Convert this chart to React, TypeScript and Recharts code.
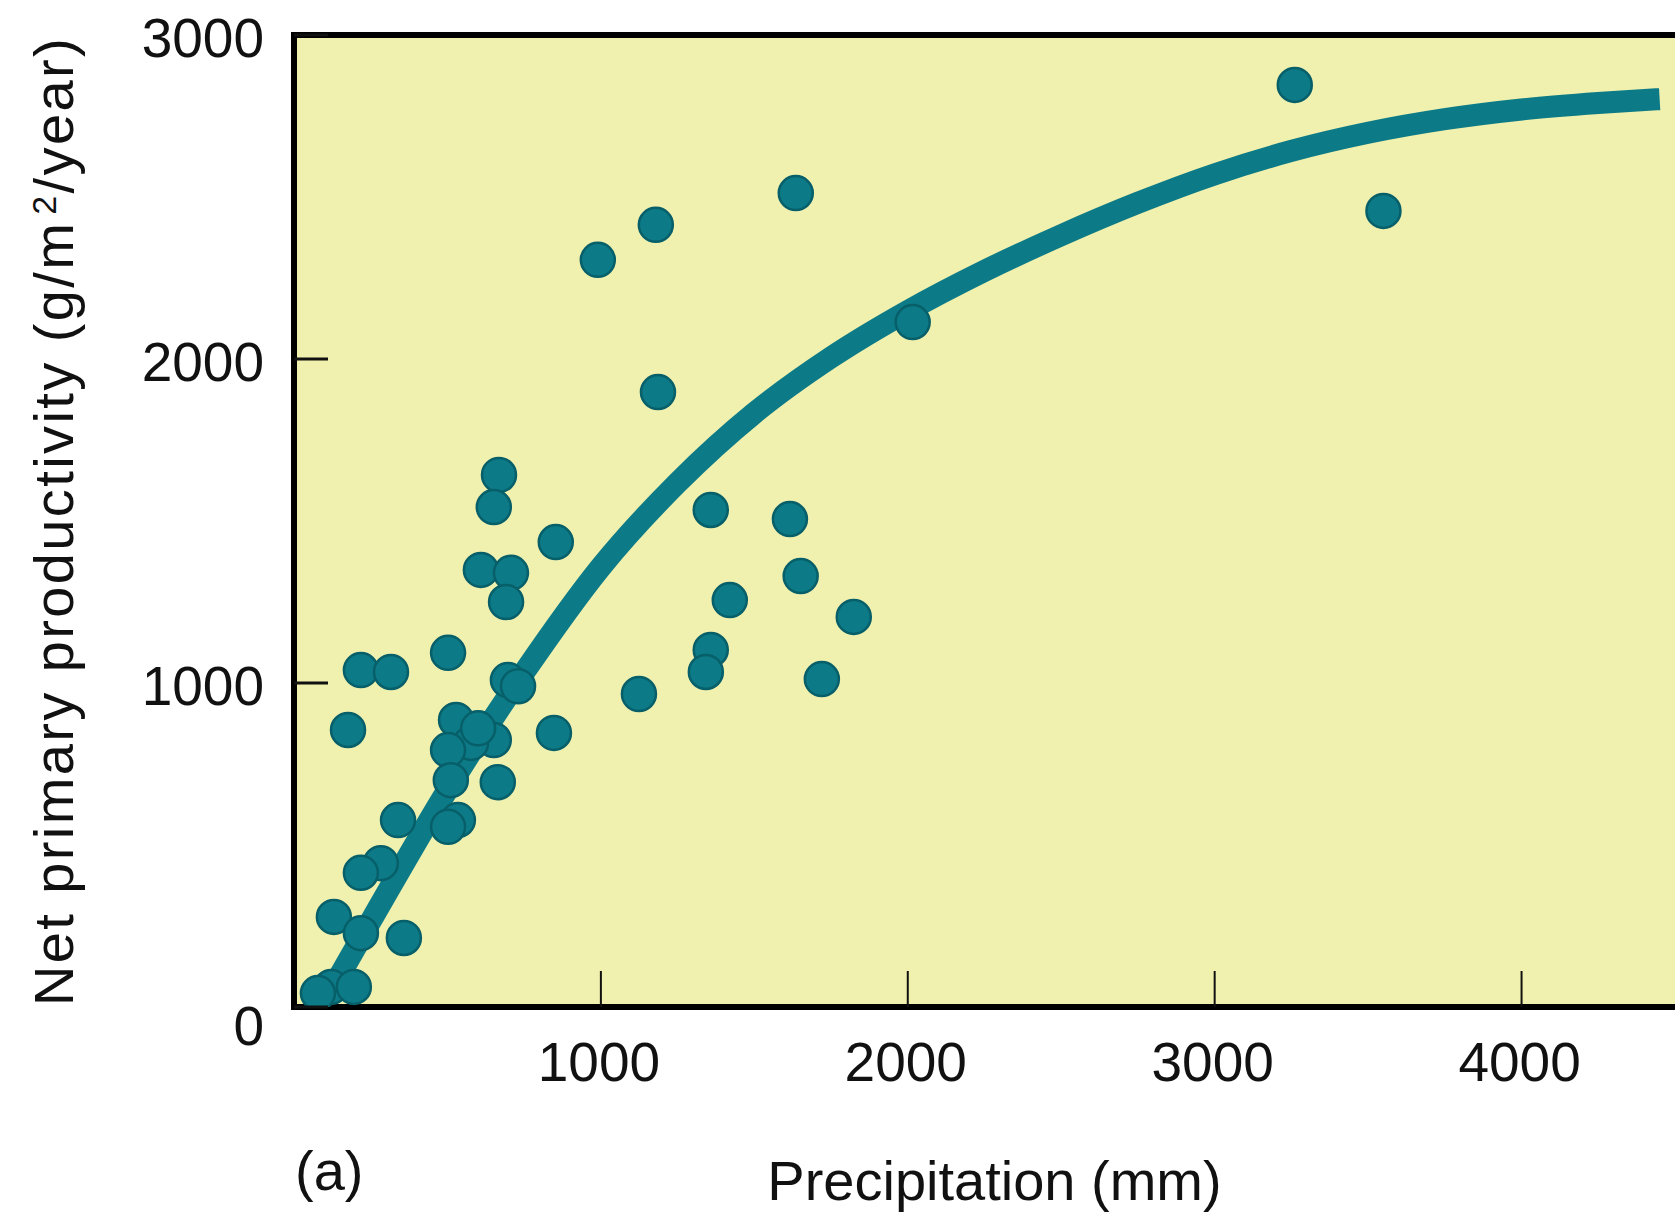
import React from 'react';
import { ComposedChart, XAxis, YAxis, Scatter, Line, ReferenceArea, ReferenceLine, Label } from 'recharts';

const FONT = '"Liberation Sans", Arial, Helvetica, sans-serif';

const xTicks = [1000, 2000, 3000, 4000];
const yTicks = [0, 1000, 2000, 3000];

// Observed sites: precipitation (mm) and net primary productivity (g/m2/year)
const precipitation = [
  3261, 3550, 1635, 1179, 990, 1186, 2016, 853, 1358, 1616,
  1651, 1420, 1824, 1358, 1342, 1720, 1124, 847, 668, 651,
  609, 707, 691, 502, 218, 316, 176, 697, 730, 651,
  664, 528, 577, 502, 511, 534, 502, 339, 283, 218,
  130, 218, 358, 121, 195, 78, 600,
];
const productivity = [
  2846, 2457, 2512, 2414, 2306, 1898, 2114, 1435, 1534, 1506,
  1330, 1256, 1204, 1102, 1034, 1012, 966, 846, 1642, 1543,
  1349, 1340, 1250, 1093, 1040, 1034, 855, 1009, 990, 824,
  694, 886, 815, 793, 700, 577, 556, 577, 444, 414,
  278, 228, 213, 62, 62, 43, 860,
];

// Fitted trend curve
const curvePrecip = [90, 250, 500, 750, 1000, 1250, 1500, 1750, 2000, 2250, 2500, 2750, 3000, 3250, 3500, 3750, 4000, 4250, 4450];
const curveProd = [0, 265, 670, 1033, 1358, 1618, 1833, 2005, 2148, 2272, 2382, 2482, 2570, 2642, 2698, 2740, 2770, 2790, 2802];

const points = precipitation.map((x, i) => ({ x, y: productivity[i] }));
const curve = curvePrecip.map((x, i) => ({ x, y: curveProd[i] }));

const TEAL = '#0C7B87';
const TEAL_DARK = '#075F69';
const BG = '#F0F0AF';

const XTick = (props: any) => {
  const { x, y, payload } = props;
  return (
    <g>
      <line x1={x} x2={x} y1={y} y2={y - 36} stroke="#111" strokeWidth={2} />
      <text x={x - 2} y={y + 74} textAnchor="middle" fontSize={55} fill="#111" fontFamily={FONT}>
        {payload.value}
      </text>
    </g>
  );
};

const YTick = (props: any) => {
  const { x, y, payload } = props;
  return (
    <g>
      <line x1={x} x2={x + 34} y1={y} y2={y} stroke="#111" strokeWidth={3} />
      <text x={x - 30} y={y + (payload.value === 0 ? 38 : 22)} textAnchor="end" fontSize={55} fill="#111" fontFamily={FONT}>
        {payload.value}
      </text>
    </g>
  );
};

const Dot = (props: any) => {
  const { cx, cy } = props;
  if (cx == null || cy == null) return null;
  return <circle cx={cx} cy={cy} r={17} fill={TEAL} stroke={TEAL_DARK} strokeWidth={2.5} />;
};

const YLabel = (props: any) => {
  const vb = props.viewBox || { x: 234, y: 35, width: 60, height: 972 };
  const cx = vb.x - 161;
  const cy = vb.y + vb.height / 2;
  return (
    <text
      transform={`translate(${cx},${cy}) rotate(-90)`}
      textAnchor="middle"
      fontSize={56}
      letterSpacing={2.4}
      fill="#111"
      fontFamily={FONT}
    >
      Net primary productivity (g/m
      <tspan dx={6} dy={-17} fontSize={34}>2</tspan>
      <tspan dy={17}>/year)</tspan>
    </text>
  );
};

const XLabel = (props: any) => {
  const vb = props.viewBox || { x: 294, y: 1007, width: 1381, height: 30 };
  return (
    <g>
      <text x={vb.x + vb.width / 2 + 10} y={vb.y + 193} textAnchor="middle" fontSize={56} fill="#111" fontFamily={FONT}>
        Precipitation (mm)
      </text>
      <text x={vb.x + 1} y={vb.y + 183} textAnchor="start" fontSize={56} fill="#111" fontFamily={FONT}>
        (a)
      </text>
    </g>
  );
};

export default function App() {
  return (
    <div style={{ position: 'absolute', left: 0, top: 0, width: 1675, height: 1223, background: '#fff' }}>
      <ComposedChart
        width={1675}
        height={1223}
        margin={{ top: 35, right: 0, bottom: 186, left: 234 }}
      >
        <XAxis
          type="number"
          dataKey="x"
          domain={[0, 4500]}
          ticks={xTicks}
          interval={0}
          allowDataOverflow
          height={30}
          axisLine={{ stroke: '#000', strokeWidth: 6, strokeLinecap: 'square' }}
          tickLine={false}
          tickSize={0}
          tickMargin={0}
          tick={<XTick />}
        >
          <Label content={<XLabel />} />
        </XAxis>
        <YAxis
          type="number"
          dataKey="y"
          domain={[0, 3000]}
          ticks={yTicks}
          interval={0}
          allowDataOverflow
          width={60}
          axisLine={{ stroke: '#000', strokeWidth: 6, strokeLinecap: 'square' }}
          tickLine={false}
          tickSize={0}
          tickMargin={0}
          tick={<YTick />}
        >
          <Label content={<YLabel />} />
        </YAxis>
        <ReferenceArea x1={0} x2={4500} y1={0} y2={3000} fill={BG} fillOpacity={1} stroke="none" ifOverflow="visible" />
        <ReferenceLine y={3000} stroke="#000" strokeWidth={6} ifOverflow="visible" />
        <Line
          data={curve}
          dataKey="y"
          type="monotone"
          stroke={TEAL}
          strokeWidth={22}
          dot={false}
          activeDot={false}
          isAnimationActive={false}
        />
        <Scatter data={points} dataKey="y" shape={<Dot />} isAnimationActive={false} />
      </ComposedChart>
    </div>
  );
}
